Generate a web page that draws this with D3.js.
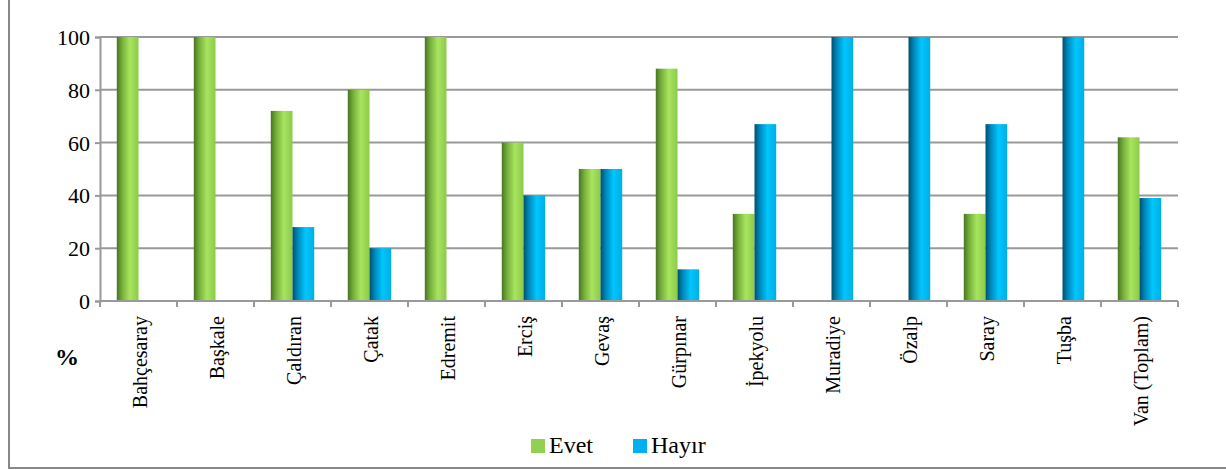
<!DOCTYPE html>
<html>
<head>
<meta charset="utf-8">
<script src="https://cdn.jsdelivr.net/npm/d3@7"></script>
<style>
  body { margin: 0; background: #fff; }
  svg { display: block; }
</style>
</head>
<body>
<script>
const W = 1226, H = 470;
const SERIF = '"Liberation Serif"';

// data
const districts = ["Bahçesaray", "Başkale", "Çaldıran", "Çatak", "Edremit", "Erciş", "Gevaş",
    "Gürpınar", "İpekyolu", "Muradiye", "Özalp", "Saray", "Tuşba", "Van (Toplam)"];
const evet  = [100, 100, 72, 80, 100, 60, 50, 88, 33, 0, 0, 33, 0, 62];
const hayir = [0, 0, 28, 20, 0, 40, 50, 12, 67, 100, 100, 67, 100, 39];
const seriesNames = ["Evet", "Hayır"];
const yTicks = [0, 20, 40, 60, 80, 100];

const svg = d3.select("body").append("svg").attr("width", W).attr("height", H);

// gradients for the cylinder look
const defs = svg.append("defs");
function grad(id, stops) {
    const g = defs.append("linearGradient").attr("id", id)
        .attr("x1", "0%").attr("x2", "100%").attr("y1", "0%").attr("y2", "0%");
    stops.forEach(s => g.append("stop").attr("offset", s[0]).attr("stop-color", s[1]));
}
grad("gGreen", [["0%", "#4a7424"], ["25%", "#76b03a"], ["60%", "#a8e460"], ["100%", "#8bcb48"]]);
grad("gBlue", [["0%", "#00506e"], ["25%", "#0089bd"], ["60%", "#00c6fc"], ["100%", "#00aee6"]]);

// outer frame (only left and bottom edges are visible)
svg.append("line").attr("x1", 9).attr("x2", 9).attr("y1", 0).attr("y2", 469)
    .attr("stroke", "#888").attr("stroke-width", 2);
svg.append("line").attr("x1", 8).attr("x2", W).attr("y1", 468).attr("y2", 468)
    .attr("stroke", "#888").attr("stroke-width", 2);

const plotL = 100, plotR = 1178, plotT = 37, plotB = 301;

const x = d3.scaleBand().domain(districts).range([plotL, plotR]);
const y = d3.scaleLinear().domain([0, 100]).range([plotB, plotT]);
const barW = x.bandwidth() * 0.282;
const xs = d3.scaleBand().domain(seriesNames).range([0, barW * 2]);

// gridlines
svg.append("g").selectAll("line").data(yTicks.slice(1)).enter().append("line")
    .attr("x1", plotL).attr("x2", plotR)
    .attr("y1", d => y(d)).attr("y2", d => y(d))
    .attr("stroke", "#999").attr("stroke-width", 2);

// y axis
const yAxis = svg.append("g").attr("transform", `translate(${plotL},0)`)
    .call(d3.axisLeft(y).tickValues(yTicks).tickSize(5).tickPadding(5));
yAxis.select(".domain").attr("stroke", "#999").attr("stroke-width", 2);
yAxis.selectAll(".tick line").attr("stroke", "#999").attr("stroke-width", 2);
yAxis.selectAll("text").style("font-family", SERIF).style("font-size", "22px")
    .attr("fill", "#000").attr("dy", "0.34em");

// bars
const groups = svg.append("g").selectAll("g").data(districts).enter().append("g")
    .attr("transform", d => `translate(${x(d) + (x.bandwidth() - barW * 2) / 2},0)`);
groups.append("rect")
    .attr("x", xs("Evet")).attr("width", xs.bandwidth())
    .attr("y", (d, i) => y(evet[i])).attr("height", (d, i) => y(0) - y(evet[i]))
    .attr("fill", "url(#gGreen)");
groups.append("rect")
    .attr("x", xs("Hayır")).attr("width", xs.bandwidth())
    .attr("y", (d, i) => y(hayir[i])).attr("height", (d, i) => y(0) - y(hayir[i]))
    .attr("fill", "url(#gBlue)");

// x axis line and ticks between categories
svg.append("line").attr("x1", plotL).attr("x2", plotR).attr("y1", plotB).attr("y2", plotB)
    .attr("stroke", "#999").attr("stroke-width", 2);
svg.append("g").selectAll("line").data(districts.concat(["end"])).enter().append("line")
    .attr("x1", (d, i) => i < districts.length ? x(d) : plotR)
    .attr("x2", (d, i) => i < districts.length ? x(d) : plotR)
    .attr("y1", plotB).attr("y2", plotB + 6)
    .attr("stroke", "#999").attr("stroke-width", 2);

// rotated category labels
svg.append("g").selectAll("text").data(districts).enter().append("text")
    .attr("transform", d => `translate(${x(d) + x.bandwidth() / 2 + 1},316) rotate(-90)`)
    .attr("text-anchor", "end").attr("dy", "0.35em")
    .style("font-family", SERIF).style("font-size", "20px")
    .text(d => d);

// axis unit
svg.append("text").attr("x", 67).attr("y", 365).attr("text-anchor", "middle")
    .style("font-family", SERIF).style("font-size", "24px").style("font-weight", "bold").text("%");

// legend
const legend = svg.append("g");
const legendX = [531, 633];
const legendFill = ["#92d050", "#00b0f0"];
seriesNames.forEach((s, i) => {
    legend.append("rect").attr("x", legendX[i]).attr("y", 439).attr("width", 14).attr("height", 14)
        .attr("fill", legendFill[i]);
    legend.append("text").attr("x", legendX[i] + 18).attr("y", 453)
        .style("font-family", SERIF).style("font-size", "24px").text(s);
});
</script>
</body>
</html>
